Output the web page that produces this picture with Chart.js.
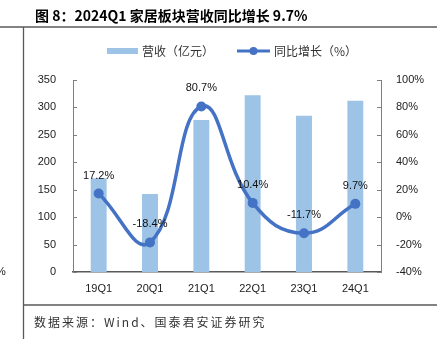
<!DOCTYPE html>
<html>
<head>
<meta charset="utf-8">
<script src="https://cdn.jsdelivr.net/npm/chart.js@4/dist/chart.umd.min.js"></script>
<style>
  html, body { margin: 0; padding: 0; background: #fff; }
  #wrap { position: relative; width: 437px; height: 339px; overflow: hidden; }
  #chart { position: absolute; left: 0; top: 0; }
</style>
</head>
<body>
<div id="wrap"><canvas id="chart" width="437" height="339"></canvas></div>
<script>
/* --------------- Data --------------------- */
const quarters = ["19Q1", "20Q1", "21Q1", "22Q1", "23Q1", "24Q1"];
const revenue = [171, 142, 277, 322, 285, 312];       // 营收（亿元）
const yoyGrowth = [17.2, -18.4, 80.7, 10.4, -11.7, 9.7]; // 同比增长（%）
const leftTicks = [0, 50, 100, 150, 200, 250, 300, 350];
const rightTicks = [-40, -20, 0, 20, 40, 60, 80, 100];

const barColor = "#9DC3E6";
const lineColor = "#4472C4";
const tickFont = "11px 'Liberation Sans', Arial, sans-serif";
const cjkFont = "'Noto Sans CJK SC', sans-serif";

/* --------------- Frame, title, legend, labels --------------------- */
const decorPlugin = {
  id: "decor",
  beforeDraw(chart) {
    const ctx = chart.ctx;
    ctx.save();
    ctx.fillStyle = "#fff";
    ctx.fillRect(0, 0, chart.width, chart.height);
    // title
    ctx.fillStyle = "#000";
    ctx.font = "bold 14px " + cjkFont;
    ctx.textBaseline = "middle";
    ctx.fillText("图 8：2024Q1 家居板块营收同比增长 9.7%", 35, 16);
    // frame lines
    ctx.strokeStyle = "#595959";
    ctx.lineWidth = 1.3;
    ctx.beginPath();
    ctx.moveTo(0, 27); ctx.lineTo(437, 27);
    ctx.moveTo(23.5, 27); ctx.lineTo(23.5, 339);
    ctx.moveTo(23, 305); ctx.lineTo(437, 305);
    ctx.stroke();
    // clipped fragment from neighbouring chart
    ctx.fillStyle = "#222";
    ctx.font = tickFont;
    ctx.fillText("%", -4, 272);
    // source
    ctx.fillStyle = "#333";
    ctx.font = "12px " + cjkFont;
    ctx.letterSpacing = "2px";
    ctx.fillText("数据来源：Wind、国泰君安证券研究", 34, 322);
    ctx.letterSpacing = "0px";
    // legend
    ctx.fillStyle = barColor;
    ctx.fillRect(107, 48, 31, 6);
    ctx.fillStyle = "#333";
    ctx.font = "12px " + cjkFont;
    ctx.fillText("营收（亿元）", 142, 51);
    ctx.strokeStyle = lineColor;
    ctx.lineWidth = 3;
    ctx.beginPath();
    ctx.moveTo(237, 51); ctx.lineTo(270, 51);
    ctx.stroke();
    ctx.fillStyle = lineColor;
    ctx.beginPath();
    ctx.arc(253.5, 51, 4, 0, Math.PI * 2);
    ctx.fill();
    ctx.fillStyle = "#333";
    ctx.fillText("同比增长（%）", 274, 51);
    ctx.restore();
  },
  afterDraw(chart) {
    const ctx = chart.ctx;
    const yl = chart.scales.y;
    const yr = chart.scales.y1;
    ctx.save();
    // inner tick marks
    ctx.strokeStyle = "#7f7f7f";
    ctx.lineWidth = 1;
    ctx.beginPath();
    leftTicks.forEach(v => {
      const p = Math.round(yl.getPixelForValue(v)) + 0.5;
      ctx.moveTo(yl.right, p); ctx.lineTo(yl.right + 4, p);
    });
    rightTicks.forEach(v => {
      const p = Math.round(yr.getPixelForValue(v)) + 0.5;
      ctx.moveTo(yr.left - 4, p); ctx.lineTo(yr.left, p);
    });
    ctx.stroke();
    // data labels for growth line
    const meta = chart.getDatasetMeta(1);
    ctx.fillStyle = "#111";
    ctx.font = tickFont;
    ctx.textAlign = "center";
    ctx.textBaseline = "middle";
    meta.data.forEach((pt, i) => {
      ctx.fillText(yoyGrowth[i].toFixed(1) + "%", pt.x, pt.y - 18);
    });
    ctx.restore();
  },
};

/* --------------- Chart --------------------- */
new Chart(document.getElementById("chart"), {
  plugins: [decorPlugin],
  data: {
    labels: quarters,
    datasets: [
      {
        type: "bar",
        label: "营收（亿元）",
        data: revenue,
        backgroundColor: barColor,
        yAxisID: "y",
        barPercentage: 0.31,
        categoryPercentage: 1,
        order: 2,
      },
      {
        type: "line",
        label: "同比增长（%）",
        data: yoyGrowth,
        borderColor: lineColor,
        backgroundColor: lineColor,
        borderWidth: 3.5,
        pointRadius: 5,
        pointBackgroundColor: lineColor,
        pointBorderWidth: 0,
        tension: 0.45,
        yAxisID: "y1",
        order: 1,
      },
    ],
  },
  options: {
    responsive: false,
    animation: false,
    layout: { padding: { left: 30, right: 0, top: 80, bottom: 42 } },
    plugins: {
      legend: { display: false },
      tooltip: { enabled: false },
    },
    scales: {
      x: {
        grid: { display: false, drawTicks: false },
        border: { color: "#595959", width: 1.5 },
        ticks: { color: "#222", font: { family: "'Liberation Sans', Arial", size: 11 }, padding: 10 },
        afterFit: s => { s.height = 25; },
      },
      y: {
        position: "left",
        min: 0,
        max: 350,
        afterBuildTicks: s => { s.ticks = leftTicks.map(v => ({ value: v })); },
        grid: { display: false },
        border: { color: "#7f7f7f", width: 1 },
        ticks: { color: "#222", font: { family: "'Liberation Sans', Arial", size: 11 }, padding: 9 },
        afterFit: s => { s.width = 43; },
      },
      y1: {
        position: "right",
        min: -40,
        max: 100,
        afterBuildTicks: s => { s.ticks = rightTicks.map(v => ({ value: v })); },
        grid: { display: false },
        border: { color: "#7f7f7f", width: 1 },
        ticks: {
          color: "#222",
          font: { family: "'Liberation Sans', Arial", size: 11 },
          padding: 7,
          callback: v => v + "%",
        },
        afterFit: s => { s.width = 56; },
      },
    },
  },
});
</script>
</body>
</html>
